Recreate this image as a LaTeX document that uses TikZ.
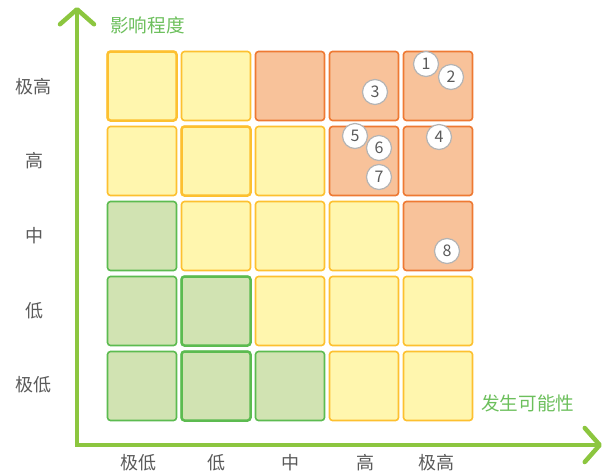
\documentclass[tikz,border=0pt]{standalone}
\usepackage{fontspec}
\setmainfont{Noto Sans CJK SC}
\usetikzlibrary{arrows.meta}
\definecolor{axisgreen}{HTML}{8CC63F}
\definecolor{titlegreen}{HTML}{6CBF5C}
\definecolor{labgray}{HTML}{5A5A5A}
\definecolor{yfill}{HTML}{FFF6AE}
\definecolor{ydraw}{HTML}{FDC030}
\definecolor{ofill}{HTML}{F8C29A}
\definecolor{odraw}{HTML}{EE7933}
\definecolor{gfill}{HTML}{D1E3B2}
\definecolor{gdraw}{HTML}{5CBB50}
\definecolor{cdraw}{HTML}{B4B4B4}
\tikzset{
  cell/.style={minimum size=69, inner sep=0, rounded corners=3, line width=1.6},
  ycell/.style={cell, fill=yfill, draw=ydraw},
  ocell/.style={cell, fill=ofill, draw=odraw},
  gcell/.style={cell, fill=gfill, draw=gdraw},
  bold/.style={line width=2.5},
  axlab/.style={text=labgray, font=\fontsize{18}{20}\selectfont, inner sep=0},
  ttl/.style={text=titlegreen, font=\fontsize{18.6}{20}\selectfont, inner sep=0, anchor=west},
  risk/.style={circle, fill=white, draw=cdraw, line width=1.2, minimum size=25, inner sep=0, text=labgray, font=\fontsize{16}{18}\selectfont},
  axis/.style={draw=axisgreen, line width=4.5, {Straight Barb[length=15,width=34,round]}-{Straight Barb[length=15,width=34,round]}, line join=miter}
}
\begin{document}
\begin{tikzpicture}[x=1pt,y=-1pt]
\useasboundingbox (0,0) rectangle (608,475);
% axes
\coordinate (ytip) at (77,7);
\coordinate (origin) at (77,445);
\coordinate (xtip) at (602,445);
\draw[axis] (ytip) -- (origin) -- (xtip);
% cells: row 1 (top) .. row 5
\foreach \r/\list in {1/{y,y,o,o,o},2/{y,y,y,o,o},3/{g,y,y,y,o},4/{g,g,y,y,y},5/{g,g,g,y,y}}{
  \foreach \t [count=\c] in \list {
    \node[\t cell] (c\r\c) at ({142+74*(\c-1)},{86+75*(\r-1)}) {};
  }
}
% cells with heavier borders
\node[ycell, bold] (b11) at (c11) {};
\node[ycell, bold] (b22) at (c22) {};
\node[gcell, bold] (b42) at (c42) {};
\node[gcell, bold] (b52) at (c52) {};
% y labels
\node[axlab] (ly1) at (33,87) {极高};
\node[axlab] (ly2) at (34,161) {高};
\node[axlab] (ly3) at (34,236) {中};
\node[axlab] (ly4) at (34,311) {低};
\node[axlab] (ly5) at (33,385) {极低};
% x labels
\node[axlab] (lx1) at (138,463) {极低};
\node[axlab] (lx2) at (216,463) {低};
\node[axlab] (lx3) at (290,463) {中};
\node[axlab] (lx4) at (365,463) {高};
\node[axlab] (lx5) at (436,463) {极高};
% titles
\node[ttl] (ty) at (110,25) {影响程度};
\node[ttl] (tx) at (481,403) {发生可能性};
% risks
\node[risk] (r1) at (426,64) {1};
\node[risk] (r2) at (451,77) {2};
\node[risk] (r3) at (375,92) {3};
\node[risk] (r4) at (439,137) {4};
\node[risk] (r5) at (355,136) {5};
\node[risk] (r6) at (379,148) {6};
\node[risk] (r7) at (379,177) {7};
\node[risk] (r8) at (447,251) {8};
\end{tikzpicture}
\end{document}
